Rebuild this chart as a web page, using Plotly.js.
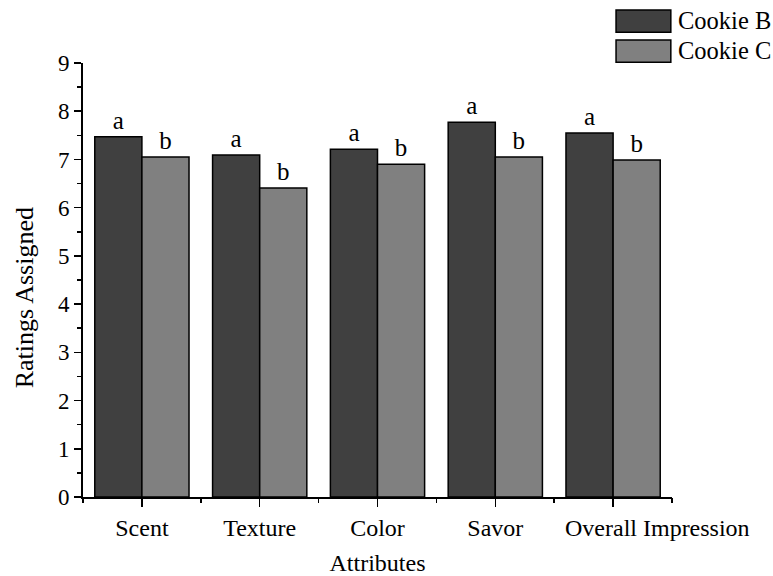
<!DOCTYPE html>
<html>
<head>
<meta charset="utf-8">
<script src="https://cdn.plot.ly/plotly-3.0.1.min.js"></script>
<style>html,body{margin:0;padding:0;background:#fff;}#chart{width:773px;height:576px;}</style>
</head>
<body>
<div id="chart"></div>
<script>
const categories = ["Scent", "Texture", "Color", "Savor", "Overall Impression"];
const cookieB = [7.47, 7.09, 7.21, 7.77, 7.55];
const cookieC = [7.05, 6.41, 6.90, 7.05, 6.99];
const lettersB = ["a", "a", "a", "a", "a"];
const lettersC = ["b", "b", "b", "b", "b"];
const seriesNames = ["Cookie B", "Cookie C"];
const yTicks = [0, 1, 2, 3, 4, 5, 6, 7, 8, 9];
const xTitle = "Attributes";
const yTitle = "Ratings Assigned";

const FONT = "Liberation Serif, Times New Roman, serif";
const colB = "#404040", colC = "#808080";

// last category label is drawn as an annotation shifted right (as in the original)
const tickTexts = categories.map((c, i) => i === categories.length - 1 ? "" : c);

const traces = [
  {type: "bar", name: seriesNames[0], x: categories, y: cookieB, text: lettersB,
   textposition: "outside", cliponaxis: false, constraintext: "none",
   textfont: {family: FONT, size: 25, color: "#000"},
   marker: {color: colB, line: {color: "#000", width: 1.5}}, showlegend: false},
  {type: "bar", name: seriesNames[1], x: categories, y: cookieC, text: lettersC,
   textposition: "outside", cliponaxis: false, constraintext: "none",
   textfont: {family: FONT, size: 25, color: "#000"},
   marker: {color: colC, line: {color: "#000", width: 1.5}}, showlegend: false},
  {type: "scatter", x: [-0.5, 4.5], y: [0, 0], xaxis: "x2", mode: "none", showlegend: false, hoverinfo: "skip"}
];

const layout = {
  width: 773, height: 576,
  margin: {l: 83, r: 101, t: 63, b: 79},
  paper_bgcolor: "#fff", plot_bgcolor: "#fff",
  font: {family: FONT, color: "#000", size: 24},
  barmode: "group", bargap: 0.2, bargroupgap: 0,
  xaxis: {
    type: "category", range: [-0.5, 4.5],
    tickmode: "array", tickvals: categories, ticktext: tickTexts,
    showline: true, linecolor: "#000", linewidth: 2,
    ticks: "outside", ticklen: 8, tickwidth: 1.5, tickcolor: "#000",
    tickfont: {family: FONT, size: 24}, tickangle: 0,
    showgrid: false, zeroline: false,
    title: {text: xTitle, font: {family: FONT, size: 24}, standoff: 14}
  },
  xaxis2: {
    overlaying: "x", range: [-0.5, 4.5], tickmode: "array", tickvals: [-0.5, 0.5, 1.5, 2.5, 3.5, 4.5],
    showticklabels: false, ticks: "outside", ticklen: 5, tickwidth: 1.5, tickcolor: "#000",
    showgrid: false, zeroline: false, showline: false, side: "bottom", anchor: "y"
  },
  yaxis: {
    range: [0, 9], tickmode: "array", tickvals: yTicks,
    showline: true, linecolor: "#000", linewidth: 2,
    ticks: "outside", ticklen: 7, tickwidth: 1.5, tickcolor: "#000",
    minor: {ticks: "outside", ticklen: 4, tickwidth: 1.5, tickcolor: "#000", dtick: 0.5, tick0: 0, showgrid: false},
    tickfont: {family: FONT, size: 23},
    showgrid: false, zeroline: false
  },
  shapes: [
    {type: "rect", xref: "paper", yref: "paper", x0: 0.905, x1: 0.998, y0: 1.071, y1: 1.122,
     fillcolor: colB, line: {color: "#000", width: 1.5}},
    {type: "rect", xref: "paper", yref: "paper", x0: 0.905, x1: 0.998, y0: 1.002, y1: 1.053,
     fillcolor: colC, line: {color: "#000", width: 1.5}}
  ],
  annotations: [
    {xref: "paper", yref: "paper", x: 1.007, y: 1.097, xanchor: "left", yanchor: "middle",
     text: seriesNames[0], showarrow: false, font: {family: FONT, size: 24.5}},
    {xref: "paper", yref: "paper", x: 1.007, y: 1.028, xanchor: "left", yanchor: "middle",
     text: seriesNames[1], showarrow: false, font: {family: FONT, size: 24.5}},
    {xref: "x", yref: "paper", x: categories[categories.length - 1], xshift: 44, y: 0, yshift: -16,
     xanchor: "center", yanchor: "top", text: categories[categories.length - 1], showarrow: false,
     font: {family: FONT, size: 24}},
    {xref: "paper", yref: "paper", x: -0.1, y: 0.458, xanchor: "center", yanchor: "middle",
     text: yTitle, textangle: -90, showarrow: false, font: {family: FONT, size: 26}}
  ]
};

Plotly.newPlot("chart", traces, layout, {displayModeBar: false, staticPlot: true});
</script>
</body>
</html>
